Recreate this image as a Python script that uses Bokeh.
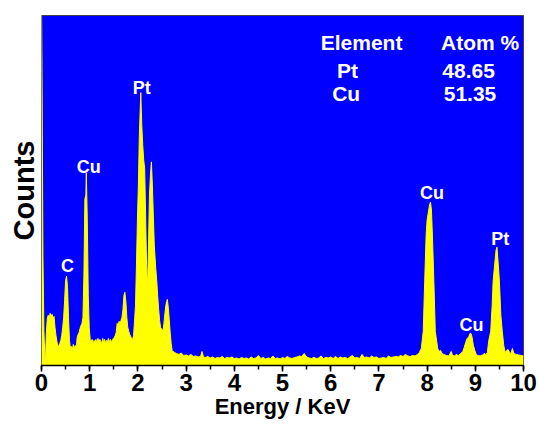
from bokeh.plotting import figure
from bokeh.models import Range1d, Title, SingleIntervalTicker, ColumnDataSource
from bokeh.core.properties import value
from bokeh.embed import file_html
from bokeh.resources import INLINE

# ---- spectrum data (energy in keV, counts) ----
energy_kev = [
    0.00, 0.01, 0.03, 0.05, 0.07, 0.08, 0.10, 0.12, 0.14, 0.16, 0.18, 0.20, 0.22, 0.24, 0.26, 0.28,
    0.30, 0.32, 0.34, 0.36, 0.38, 0.40, 0.42, 0.44, 0.46, 0.48, 0.50, 0.52, 0.54, 0.56, 0.58,
    0.60, 0.62, 0.64, 0.66, 0.68, 0.70, 0.72, 0.74, 0.76, 0.78, 0.80, 0.82, 0.84, 0.86, 0.88,
    0.90, 0.92, 0.93, 0.95, 0.97, 0.99, 1.01, 1.03, 1.05, 1.07, 1.09, 1.11, 1.13, 1.15, 1.17,
    1.19, 1.21, 1.23, 1.25, 1.27, 1.29, 1.31, 1.33, 1.35, 1.37, 1.39, 1.41, 1.43, 1.45, 1.47,
    1.49, 1.51, 1.53, 1.55, 1.57, 1.59, 1.61, 1.63, 1.65, 1.67, 1.69, 1.71, 1.73, 1.75, 1.77,
    1.79, 1.81, 1.83, 1.85, 1.87, 1.89, 1.91, 1.93, 1.95, 1.97, 1.99, 2.01, 2.03, 2.06, 2.08,
    2.10, 2.12, 2.14, 2.16, 2.18, 2.20, 2.22, 2.24, 2.26, 2.28, 2.30, 2.32, 2.34, 2.37, 2.39,
    2.41, 2.43, 2.45, 2.47, 2.49, 2.52, 2.54, 2.56, 2.58, 2.61, 2.63, 2.65, 2.67, 2.69, 2.71,
    2.73, 2.76, 2.80, 2.85, 2.90, 2.95, 3.00, 3.05, 3.10, 3.15, 3.20, 3.25, 3.30, 3.33, 3.36,
    3.40, 3.45, 3.50, 3.55, 3.60, 3.65, 3.70, 3.75, 3.80, 3.85, 3.90, 3.95, 4.00, 4.05, 4.10,
    4.15, 4.20, 4.25, 4.30, 4.35, 4.40, 4.45, 4.50, 4.55, 4.60, 4.65, 4.70, 4.75, 4.80, 4.85,
    4.90, 4.95, 5.00, 5.05, 5.10, 5.15, 5.20, 5.25, 5.30, 5.35, 5.40, 5.45, 5.50, 5.55, 5.60,
    5.65, 5.70, 5.75, 5.80, 5.85, 5.90, 5.95, 6.00, 6.05, 6.10, 6.15, 6.20, 6.25, 6.30, 6.35,
    6.40, 6.45, 6.50, 6.55, 6.60, 6.65, 6.70, 6.75, 6.80, 6.85, 6.90, 6.95, 7.00, 7.05, 7.10,
    7.15, 7.20, 7.25, 7.30, 7.35, 7.40, 7.45, 7.50, 7.55, 7.60, 7.65, 7.70, 7.75, 7.80, 7.84,
    7.88, 7.92, 7.95, 7.98, 8.00, 8.02, 8.05, 8.07, 8.09, 8.11, 8.14, 8.17, 8.22, 8.25, 8.28,
    8.31, 8.35, 8.40, 8.45, 8.50, 8.53, 8.57, 8.60, 8.65, 8.70, 8.74, 8.77, 8.80, 8.83, 8.86,
    8.89, 8.91, 8.93, 8.96, 8.99, 9.02, 9.05, 9.10, 9.15, 9.19, 9.22, 9.25, 9.28, 9.32, 9.35,
    9.37, 9.40, 9.43, 9.45, 9.47, 9.50, 9.53, 9.56, 9.59, 9.62, 9.65, 9.68, 9.71, 9.74, 9.77,
    9.80, 9.85, 9.90, 9.95, 10.00,
]
counts = [
    3600, 3000, 1100, 350, 60, 20, 320, 470, 500, 480, 520, 490, 510, 470, 490, 380,
    300, 240, 190, 200, 220, 250, 300, 380, 480, 650, 850, 890, 780, 480, 250,
    170, 190, 160, 210, 170, 200, 160, 280, 310, 330, 370, 400, 420, 480, 900,
    1660, 1700, 1920, 1450, 700, 380, 260, 240, 260, 210, 250, 230, 260, 210, 270,
    230, 260, 240, 220, 270, 230, 260, 220, 250, 240, 270, 230, 260, 240, 250,
    270, 280, 300, 330, 420, 400, 440, 410, 450, 480, 560, 700, 730, 640, 480,
    380, 340, 310, 290, 270, 260, 300, 440, 600, 1000, 1450, 1800, 2300, 2720, 2400,
    2200, 2050, 1970, 1500, 1000, 770, 1200, 1700, 1900, 2030, 1800, 1500, 1200, 970, 850,
    700, 560, 450, 380, 370, 340, 420, 520, 600, 660, 580, 460, 330, 220, 150,
    140, 130, 120, 110, 125, 100, 105, 95, 110, 90, 95, 85, 90, 140, 85,
    80, 90, 75, 85, 70, 80, 75, 90, 70, 80, 75, 85, 70, 75, 65,
    80, 70, 75, 65, 85, 70, 75, 100, 70, 80, 65, 75, 70, 95, 70,
    75, 65, 80, 70, 90, 75, 70, 80, 85, 95, 90, 120, 85, 75, 70,
    80, 70, 75, 95, 70, 80, 75, 85, 70, 90, 70, 85, 75, 80, 70,
    85, 100, 75, 80, 70, 110, 80, 85, 75, 95, 80, 85, 70, 75, 80,
    70, 95, 80, 85, 90, 85, 100, 90, 110, 95, 90, 100, 95, 110, 130,
    170, 340, 840, 1300, 1450, 1510, 1600, 1630, 1550, 1300, 840, 340, 170, 140, 150,
    120, 110, 100, 95, 140, 100, 95, 110, 100, 120, 140, 180, 230, 270, 280,
    320, 320, 290, 200, 150, 110, 100, 95, 105, 120, 110, 130, 250, 340, 600,
    840, 1000, 1150, 1180, 1050, 840, 500, 340, 200, 130, 150, 160, 130, 120, 170,
    120, 110, 105, 100, 95,
]

# ---- peak labels ----
peak_x = [0.54, 0.98, 2.08, 8.10, 8.92, 9.52]
peak_y = [990, 1983, 2763, 1723, 407, 1257]
peak_text = ["C", "Cu", "Pt", "Cu", "Cu", "Pt"]

# ---- composition table ----
table_x = [6.64, 9.10, 6.35, 8.86, 6.32, 8.89]
table_y = [3223, 3223, 2940, 2940, 2710, 2710]
table_text = ["Element", "Atom %", "Pt", "48.65", "Cu", "51.35"]

FONT = "Liberation Sans"

p = figure(width=539, height=424, x_range=Range1d(0, 10), y_range=Range1d(0, 3490),
           output_backend="svg", toolbar_location=None,
           min_border_left=41, min_border_right=16, min_border_top=15, min_border_bottom=59)

p.background_fill_color = "#0000FF"
p.border_fill_color = "white"
p.outline_line_color = "#444444"
p.outline_line_width = 1
p.xgrid.visible = False
p.ygrid.visible = False
p.yaxis.visible = False

src = ColumnDataSource(dict(x=energy_kev, y=counts))
p.varea(x="x", y1=0, y2="y", source=src, fill_color="#FFFF00")
p.line(x="x", y="y", source=src, line_color="#FFFF00", line_width=1)

p.text(x=peak_x, y=peak_y, text=peak_text, text_color="white",
       text_font=value(FONT), text_font_style="bold", text_font_size="18px",
       text_align="center", text_baseline="alphabetic")
p.text(x=table_x, y=table_y, text=table_text, text_color="white",
       text_font=value(FONT), text_font_style="bold", text_font_size="21px",
       text_align="center", text_baseline="alphabetic")

ax = p.xaxis[0]
ax.ticker = SingleIntervalTicker(interval=1, num_minor_ticks=2)
ax.axis_line_color = "black"
ax.axis_line_width = 1.5
ax.major_tick_line_color = "black"
ax.major_tick_line_width = 1.5
ax.major_tick_in = 0
ax.major_tick_out = 6
ax.minor_tick_line_color = "black"
ax.minor_tick_line_width = 1.5
ax.minor_tick_in = 0
ax.minor_tick_out = 4
ax.major_label_text_font = FONT
ax.major_label_text_font_style = "bold"
ax.major_label_text_font_size = "24px"
ax.major_label_text_color = "black"
ax.major_label_standoff = 2
ax.axis_label = "Energy / KeV"
ax.axis_label_text_font = FONT
ax.axis_label_text_font_style = "bold"
ax.axis_label_text_font_size = "22px"
ax.axis_label_text_color = "black"
ax.axis_label_standoff = 0

p.add_layout(Title(text="Counts", align="center", text_font=FONT, text_font_style="bold",
                   text_font_size="29px", text_color="black", standoff=4), "left")

open("out.html", "w").write(file_html(p, INLINE))
